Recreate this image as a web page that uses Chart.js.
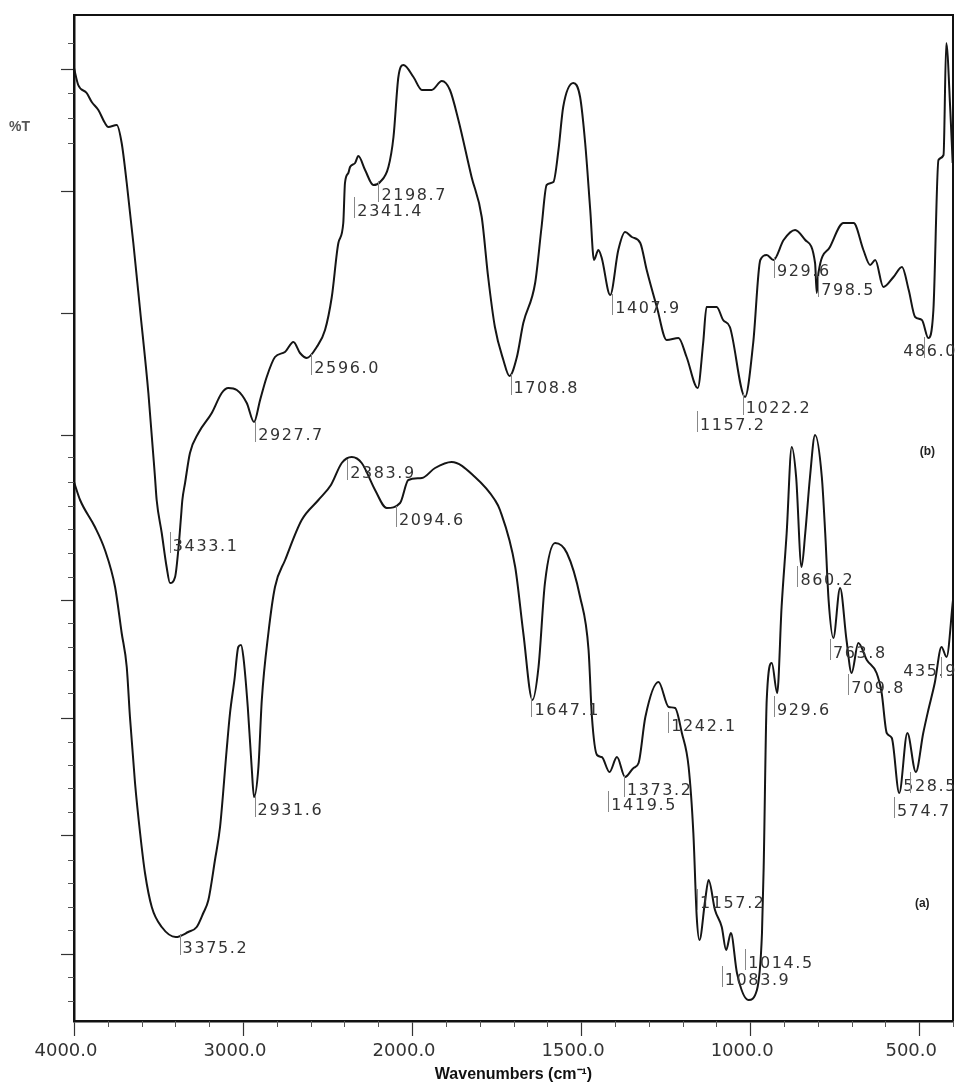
<!DOCTYPE html>
<html>
<head>
<meta charset="utf-8">
<script src="https://cdn.jsdelivr.net/npm/chart.js@4.4.1/dist/chart.umd.min.js"></script>
<style>
  html, body { margin: 0; padding: 0; background: #fff; }
  canvas { display: block; }
</style>
</head>
<body>
<canvas id="ir" width="959" height="1086"></canvas>
<script>
// spectrum (b), upper trace: wavenumber (cm-1) and %T
const waveB = [4000, 3975, 3925, 3895, 3856, 3817, 3797, 3747, 3718, 3688, 3649, 3609, 3560, 3521, 3511, 3481, 3452, 3432, 3402, 3383,
  3367, 3359, 3343, 3314, 3264, 3185, 3126, 3087, 3037, 2978, 2935, 2899, 2860, 2811, 2752, 2702, 2663, 2623, 2564, 2515,
  2475, 2436, 2407, 2397, 2377, 2367, 2337, 2318, 2278, 2229, 2189, 2140, 2110, 2081, 2051, 1996, 1971, 1942, 1912, 1888,
  1863, 1824, 1794, 1775, 1755, 1730, 1712, 1690, 1671, 1636, 1617, 1602, 1582, 1567, 1553, 1523, 1503, 1488, 1473, 1462,
  1449, 1439, 1414, 1390, 1370, 1350, 1325, 1306, 1276, 1247, 1212, 1188, 1155, 1139, 1129, 1099, 1080, 1060, 1015, 991,
  970, 951, 931, 901, 867, 837, 808, 803, 798, 764, 724, 694, 665, 645, 630, 606, 576, 551, 531, 512,
  492, 473, 458, 443, 428, 420, 408, 401];
const transB = [95.3, 93.6, 92.8, 91.9, 91.1, 89.8, 89.4, 89.6, 87.8, 83.8, 77.8, 71.1, 62.8, 54.4, 52.1, 48.8, 45.4, 43.8, 44.4, 47.1,
  50.4, 52.1, 53.8, 56.8, 58.8, 60.8, 62.8, 63.3, 63.1, 61.8, 59.9, 62.1, 64.4, 66.4, 66.9, 67.9, 66.8, 66.3, 67.4, 69.1,
  72.4, 77.8, 79.8, 83.8, 84.8, 85.4, 85.8, 86.5, 85.1, 83.6, 83.9, 85.4, 88.4, 94.4, 95.6, 94.4, 93.1, 93.1, 94.0, 93.1,
  90.1, 84.4, 80.4, 74.4, 69.4, 66.1, 64.5, 66.4, 69.8, 73.8, 79.4, 83.6, 83.9, 87.1, 91.4, 93.8, 92.4, 87.8, 81.1, 76.1,
  77.1, 76.3, 72.6, 77.1, 78.9, 78.4, 77.8, 75.1, 71.4, 68.1, 68.3, 66.4, 63.3, 67.8, 71.4, 71.4, 70.1, 69.4, 62.4, 67.8,
  76.1, 76.6, 76.1, 78.1, 79.1, 78.1, 75.8, 72.8, 74.8, 77.4, 79.8, 79.8, 77.1, 75.6, 76.1, 73.4, 74.4, 75.4, 73.1, 70.4,
  70.1, 68.3, 71.1, 86.1, 86.6, 97.8, 91.1, 85.8];

// spectrum (a), lower trace
const waveA = [4000, 3964, 3876, 3817, 3757, 3718, 3688, 3669, 3639, 3609, 3580, 3540, 3481, 3398, 3324, 3274, 3235, 3205, 3166, 3136,
  3097, 3077, 3051, 3028, 3012, 2998, 2972, 2949, 2935, 2909, 2889, 2850, 2811, 2751, 2653, 2554, 2480, 2416, 2357, 2298,
  2219, 2150, 2071, 2022, 1971, 1932, 1883, 1814, 1755, 1740, 1695, 1671, 1644, 1626, 1607, 1577, 1542, 1503, 1478, 1468,
  1453, 1439, 1416, 1394, 1370, 1345, 1330, 1310, 1271, 1241, 1222, 1202, 1182, 1168, 1158, 1150, 1133, 1123, 1104, 1084,
  1071, 1057, 1039, 1005, 980, 965, 960, 951, 936, 920, 907, 892, 877, 864, 848, 837, 823, 808, 788, 778,
  768, 754, 734, 715, 700, 680, 655, 626, 611, 596, 581, 559, 535, 510, 488, 473, 454, 434, 419, 400];
const transA = [53.9, 52.1, 49.4, 47.1, 43.4, 38.8, 35.4, 30.4, 23.8, 18.8, 14.8, 11.4, 9.4, 8.4, 8.9, 9.4, 10.8, 12.1, 16.1, 19.4,
  27.1, 30.8, 34.1, 37.4, 37.6, 36.4, 31.4, 25.4, 22.4, 25.4, 32.1, 38.8, 43.4, 46.1, 50.1, 52.1, 53.6, 55.8, 56.4, 55.8,
  53.1, 51.3, 51.8, 54.1, 54.3, 55.3, 55.9, 54.4, 52.1, 51.1, 45.4, 38.8, 32.1, 35.4, 43.8, 47.8, 46.8, 42.4, 37.1, 30.4,
  26.6, 26.4, 24.9, 26.4, 24.4, 25.3, 25.8, 30.4, 33.9, 31.4, 31.3, 28.8, 25.4, 18.8, 10.4, 8.1, 12.1, 14.1, 11.1, 9.4,
  7.1, 8.8, 4.8, 2.1, 3.1, 8.8, 15.4, 32.1, 35.8, 32.8, 41.4, 48.8, 57.4, 54.4, 45.4, 48.8, 54.4, 58.6, 54.4, 48.8,
  42.1, 38.3, 43.3, 38.1, 34.8, 37.8, 36.1, 34.8, 32.8, 28.8, 28.3, 22.8, 28.8, 24.9, 28.8, 31.1, 33.8, 37.4, 36.4, 42.1];

// axis ticks
const xMajor = [4000, 3000, 2000, 1500, 1000, 500];
const xMinor = [3800, 3600, 3400, 3200, 2800, 2600, 2400, 2200, 1900, 1800, 1700, 1600, 1400, 1300, 1200, 1100, 900, 800, 700, 600, 400];
const yMajor = [95.1, 82.9, 70.7, 58.5, 42.1, 30.3, 18.6, 6.7];
const yMinor = [97.8, 92.8, 90.3, 87.8, 56.4, 53.9, 51.5, 49.2, 46.8, 44.4, 39.8, 37.4, 35.1, 32.8, 27.9, 25.6, 23.3, 20.9,
  16.1, 13.8, 11.4, 9.1, 4.4, 2.0];

// peak picks, with the %T row each label is printed on
const peaksB = ['2198.7', '2341.4', '2596.0', '2927.7', '3433.1', '1708.8', '1407.9', '1157.2', '1022.2', '929.6', '798.5', '486.0'];
const peakRowB = [82.5, 80.9, 65.2, 58.5, 47.4, 63.2, 71.2, 59.5, 61.2, 74.9, 73.0, 66.9];
const peaksA = ['2383.9', '2094.6', '3375.2', '2931.6', '1647.1', '1242.1', '1373.2', '1419.5', '1157.2', '1014.5', '1083.9',
  '929.6', '860.2', '763.8', '709.8', '435.9', '528.5', '574.7'];
const peakRowA = [54.7, 50.0, 7.2, 21.0, 31.0, 29.4, 23.0, 21.5, 11.7, 5.7, 4.0, 31.0, 44.0, 36.7, 33.2, 34.9, 23.4, 20.9];

// FTIR axis: one unit per 1000 cm-1 above 2000, per 500 cm-1 below
function waveUnit(v) { return v >= 2000 ? (4000 - v) / 1000 : 2 + (2000 - v) / 500; }

class WaveScale extends Chart.LinearScale {
  getPixelForValue(v) { return this.getPixelForDecimal(waveUnit(v) / waveUnit(this.min)); }
  getValueForPixel(p) {
    const u = this.getDecimalForPixel(p) * waveUnit(this.min);
    return u <= 2 ? 4000 - u * 1000 : 2000 - (u - 2) * 500;
  }
}
WaveScale.id = 'wave';
Chart.register(WaveScale);

const toPoints = (w, t) => w.map((v, i) => ({ x: v, y: t[i] }));

const decor = {
  id: 'decor',
  afterDraw(chart) {
    const { ctx, chartArea: a, scales: { x, y } } = chart;
    ctx.save();
    ctx.strokeStyle = '#111';
    ctx.lineWidth = 2;
    ctx.strokeRect(a.left, a.top, a.right - a.left, a.bottom - a.top);

    // minor ticks
    ctx.lineWidth = 1;
    ctx.strokeStyle = '#555';
    ctx.beginPath();
    xMinor.forEach(v => {
      const px = Math.round(x.getPixelForValue(v)) + 0.5;
      ctx.moveTo(px, a.bottom); ctx.lineTo(px, a.bottom + 6);
    });
    yMinor.forEach(v => {
      const py = Math.round(y.getPixelForValue(v)) + 0.5;
      ctx.moveTo(a.left - 6, py); ctx.lineTo(a.left, py);
    });
    ctx.stroke();

    // peak labels
    ctx.font = '16px "DejaVu Sans"';
    ctx.letterSpacing = '1.6px';
    ctx.fillStyle = '#333';
    ctx.strokeStyle = '#888';
    ctx.textBaseline = 'middle';
    const drawPeaks = (texts, rows) => texts.forEach((t, i) => {
      const px = x.getPixelForValue(parseFloat(t));
      const py = y.getPixelForValue(rows[i]);
      const w = ctx.measureText(t).width;
      const tx = Math.min(px + 3, chart.width - 2 - w);
      ctx.fillText(t, tx, py);
      ctx.beginPath();
      ctx.moveTo(Math.round(px) + 0.5, py - 15);
      ctx.lineTo(Math.round(px) + 0.5, py + 6);
      ctx.stroke();
    });
    drawPeaks(peaksB, peakRowB);
    drawPeaks(peaksA, peakRowA);
    ctx.letterSpacing = '0px';

    // trace names and %T
    ctx.font = 'bold 12px "Liberation Sans"';
    ctx.fillStyle = '#222';
    ctx.textAlign = 'center';
    ctx.fillText('(b)', x.getPixelForValue(476), y.getPixelForValue(56.9));
    ctx.fillText('(a)', x.getPixelForValue(491), y.getPixelForValue(11.7));
    ctx.textAlign = 'left';
    ctx.font = 'bold 14px "Liberation Sans"';
    ctx.fillStyle = '#555';
    ctx.fillText('%T', 9, 127);
    ctx.restore();
  }
};

new Chart(document.getElementById('ir'), {
  type: 'line',
  data: {
    datasets: [
      { label: '(b)', data: toPoints(waveB, transB) },
      { label: '(a)', data: toPoints(waveA, transA) }
    ]
  },
  options: {
    responsive: false,
    animation: false,
    events: [],
    layout: { padding: { top: 15, right: 6, left: 0, bottom: 0 } },
    elements: {
      line: { borderColor: '#151515', borderWidth: 2, cubicInterpolationMode: 'monotone' },
      point: { radius: 0 }
    },
    plugins: { legend: { display: false }, tooltip: { enabled: false } },
    scales: {
      x: {
        type: 'wave', min: 400, max: 4000,
        afterBuildTicks: s => { s.ticks = xMajor.map(v => ({ value: v })); },
        afterFit: s => { s.height = 65; },
        ticks: {
          callback: v => Number(v).toFixed(1),
          font: { family: 'DejaVu Sans', size: 18 }, color: '#333',
          maxRotation: 0, autoSkip: false, labelOffset: -8, padding: 5
        },
        grid: { drawOnChartArea: false, tickLength: 15, color: '#333', tickWidth: 1.2 },
        border: { color: '#111', width: 2.5 },
        title: {
          display: true, text: 'Wavenumbers (cm⁻¹)', color: '#111',
          font: { family: 'Liberation Sans', size: 16, weight: 'bold' },
          padding: { top: 0, bottom: 2 }
        }
      },
      y: {
        type: 'linear', min: 0, max: 100.6,
        afterBuildTicks: s => { s.ticks = yMajor.map(v => ({ value: v })); },
        afterFit: s => { s.width = 74; },
        ticks: { display: false },
        grid: { drawOnChartArea: false, tickLength: 13, color: '#333', tickWidth: 1.2 },
        border: { color: '#111', width: 2.5 }
      }
    }
  },
  plugins: [decor]
});
</script>
</body>
</html>
